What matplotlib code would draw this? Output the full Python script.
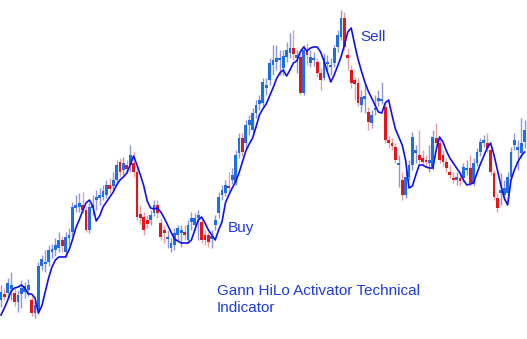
import matplotlib
matplotlib.use("Agg")
import matplotlib.pyplot as plt
import numpy as np

# OHLC candles (price units), one per bar
opens = [40,46,47,51,47,38,46,48,50,40,27,30,74,76,78,88,90,92,100,88,
         102,108,132,133,135,130,110,132,140,142,143,145,155,154,160,178,170,175,175,177,
         168,126,123,120,120,127,135,117,110,101,92,95,105,107,108,100,118,115,122,118,
         105,105,101,115,127,145,147,154,160,158,187,202,197,215,210,227,236,237,252,260,
         275,278,280,272,283,287,292,282,283,247,290,277,280,278,267,262,276,273,277,293,
         303,322,285,270,260,257,235,241,228,217,230,239,239,233,200,197,193,175,160,145,
         163,175,187,185,182,180,177,173,202,197,185,178,168,162,160,162,162,170,172,157,
         177,188,197,197,190,167,142,147,145,147,163,195,190,187,198]
highs = [55,52,62,68,52,50,60,58,61,44,40,78,85,90,95,96,102,108,104,108,
         112,138,145,147,148,134,137,145,150,152,155,160,162,168,180,182,183,180,195,188,
         172,135,128,125,130,140,140,122,115,110,102,112,115,115,115,120,128,127,130,122,
         110,108,110,125,148,155,160,168,172,190,207,207,220,225,232,240,245,262,262,282,
         295,295,290,290,298,307,310,290,290,295,297,290,288,282,272,287,285,282,295,310,
         330,328,292,275,263,262,250,257,233,230,245,250,258,237,204,202,197,185,168,170,
         180,208,195,210,190,185,195,210,217,202,190,182,175,168,168,167,177,180,185,182,
         192,202,205,207,194,170,147,167,160,168,193,207,200,222,220]
lows = [33,40,42,40,34,28,32,42,44,24,22,26,70,68,74,82,84,88,88,83,
        95,104,128,128,127,108,107,125,130,135,140,142,147,150,155,163,165,167,168,163,
        120,116,105,112,115,124,122,100,97,92,88,90,100,93,100,97,110,110,100,97,
        95,93,92,110,122,140,144,148,156,155,182,184,192,205,207,222,230,234,245,255,
        265,270,265,265,278,282,280,267,245,245,275,273,274,263,250,260,268,265,273,288,
        300,290,270,252,240,234,228,227,210,212,225,234,236,197,192,190,177,153,140,142,
        160,170,177,177,175,174,168,170,192,177,174,168,162,157,155,154,158,165,154,154,
        174,184,193,188,165,140,128,135,140,142,160,190,170,182,192]
closes = [48,43,57,55,38,45,52,54,55,27,35,74,81,78,90,91,95,100,94,103,
          105,133,135,137,130,110,133,135,143,145,149,155,151,160,175,168,177,171,185,168,
          123,122,110,116,125,135,127,103,107,103,97,107,112,110,105,115,122,122,125,100,
          100,98,104,120,143,150,155,152,165,185,202,188,215,220,227,235,240,258,255,277,
          280,282,282,284,290,292,286,285,247,290,285,283,282,267,260,282,278,275,292,305,
          322,293,282,257,256,237,243,244,218,225,232,242,241,200,197,194,180,177,145,163,
          175,203,190,180,178,178,180,203,197,180,178,172,165,160,163,159,173,172,157,177,
          188,198,200,192,168,143,132,150,152,163,188,200,193,197,210]

# Gann HiLo Activator line, one value per bar
hilo = [25,32,40,49,52,53,55,52,46,46,42,27,34,48,62,73,80,83,83,83,
        90,100,112,120,129,137,140,134,119,124,133,138,143,148,155,160,163,167,175,184,
        175,165,154,139,132,131,132,128,122,115,108,101,99,97,97,97,100,110,120,123,
        117,110,105,100,110,118,137,145,152,158,167,178,189,196,202,213,225,231,236,244,
        252,261,267,270,264,270,277,279,288,293,289,292,293,293,288,279,268,258,265,274,
        283,295,308,312,296,281,269,258,249,242,235,228,227,237,240,225,211,203,195,180,
        152,154,165,175,175,173,172,172,190,203,198,189,182,177,172,167,160,155,156,157,
        167,176,184,192,197,185,170,155,142,135,160,170,178,184,188]

labels = {"sell": "Sell", "buy": "Buy",
          "title1": "Gann HiLo Activator Technical", "title2": "Indicator"}

UP_BODY = "#1f6fe3"
DN_BODY = "#e8141c"
UP_WICK = "#8e96dc"
DN_WICK = "#e6a0a0"
LINE = "#1010ee"
TXT = "#1c3cdc"

o = np.array(opens, float); h = np.array(highs, float)
l = np.array(lows, float); c = np.array(closes, float)
idx = np.arange(len(o))
up = c >= o

W, H = 527, 339
fig = plt.figure(figsize=(W/100, H/100), dpi=100)
ax = fig.add_axes([0, 0, 1, 1])
ax.axis("off")

ax.vlines(idx[up], l[up], h[up], colors=UP_WICK, lw=1.0, zorder=1)
ax.vlines(idx[~up], l[~up], h[~up], colors=DN_WICK, lw=1.0, zorder=1)
bot = np.minimum(o, c)
hei = np.maximum(np.abs(c - o), 1.8)
ax.bar(idx[up], hei[up], bottom=bot[up], width=0.85, color=UP_BODY, lw=0, zorder=2)
ax.bar(idx[~up], hei[~up], bottom=bot[~up], width=0.85, color=DN_BODY, lw=0, zorder=2)
ax.plot(idx, hilo, color=LINE, lw=1.2, zorder=3)

step = 3.4
ax.set_xlim(-1/step, (W - 1)/step)
ax.set_ylim(1, 340)

font = "Liberation Sans"
def ftext(x, y, s):
    fig.text(x/W, 1 - y/H, s, fontsize=11, color=TXT, family=font, ha="left", va="center")

ftext(360, 37, labels["sell"])
ftext(228, 228, labels["buy"])
ftext(217, 291, labels["title1"])
ftext(217, 308, labels["title2"])

fig.savefig("out.png", dpi=100, facecolor="white")
